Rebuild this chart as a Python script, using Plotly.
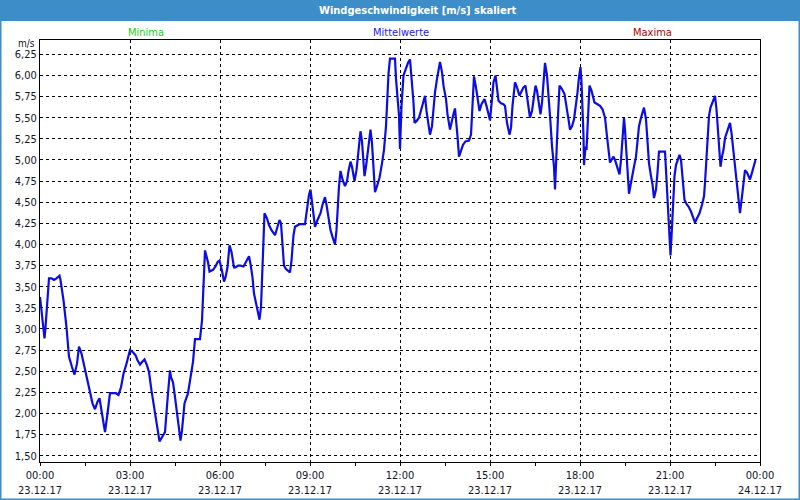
import plotly.graph_objects as go

DAY = "2017-12-23"

times = [
    "00:00","00:03","00:06","00:09","00:11","00:13","00:18","00:23","00:28","00:33","00:39","00:41",
    "00:47","00:53","00:58","01:04","01:09","01:14","01:18","01:23","01:28","01:34","01:40","01:45",
    "01:50","01:55","01:59","02:03","02:10","02:15","02:20","02:32","02:37","02:42","02:47","02:53",
    "03:00","03:05","03:11","03:15","03:20","03:24","03:29","03:34","03:38","03:43","03:49","03:54",
    "03:59","04:04","04:10","04:16","04:20","04:22","04:26","04:29","04:34","04:39","04:41","04:44",
    "04:49","04:56","05:01","05:06","05:10","05:20","05:24","05:27","05:30","05:36","05:39","05:46",
    "05:51","05:55","05:59",
    "06:04","06:08","06:11","06:15","06:19","06:23","06:28","06:31","06:36","06:41","06:47","06:51",
    "06:58","07:01","07:05","07:08","07:12","07:16","07:19","07:22","07:24","07:26","07:29","07:34",
    "07:38","07:43","07:50","07:55","07:59","08:02","08:05","08:08","08:12","08:15","08:20","08:23",
    "08:27","08:30","08:39","08:50","08:54","08:58","09:01","09:04","09:07","09:10","09:15","09:21",
    "09:25","09:30","09:33","09:37","09:41","09:45","09:50","09:53","09:55","09:58","10:01","10:05",
    "10:10","10:14","10:17","10:21","10:24","10:29","10:33","10:37","10:41","10:44","10:49","10:52",
    "10:57","11:01","11:04","11:07","11:10","11:14","11:19","11:24","11:28","11:32","11:37","11:40",
    "11:50","11:52","11:55","11:58","12:00",
    "12:03","12:07","12:11","12:16","12:20","12:23","12:27","12:29","12:33","12:38","12:41","12:46",
    "12:50","12:53","12:57","13:00","13:04","13:07","13:10","13:14","13:16","13:20","13:24","13:27",
    "13:32","13:35","13:40","13:43","13:46","13:50","13:52","13:55","13:58","14:02","14:06","14:11",
    "14:18","14:22","14:25","14:28","14:32","14:35","14:39","14:43","14:49","14:53","14:57","15:00",
    "15:04","15:07","15:11","15:14","15:17","15:22","15:27","15:30","15:34","15:39","15:42","15:45",
    "15:50","15:54","15:59","16:02","16:07","16:11","16:16","16:20","16:24","16:28","16:31","16:34",
    "16:38","16:41","16:44","16:47","16:50","16:54","16:57","17:01","17:04","17:08","17:10","17:13",
    "17:16","17:19","17:24","17:29","17:34","17:37","17:40","17:44","17:48","17:51","17:55","17:58",
    "18:01",
    "18:03","18:05","18:07","18:08","18:11","18:13","18:15","18:17","18:19","18:23","18:26","18:29",
    "18:35","18:40","18:45","18:50","18:54","18:57","19:00","19:03","19:07","19:10","19:14","19:16",
    "19:19","19:22","19:25","19:28","19:30","19:32","19:35","19:38","19:42","19:45","19:48","19:52",
    "19:55","19:58","20:02","20:05","20:08","20:12","20:15","20:18","20:22","20:25","20:28","20:32",
    "20:35","20:38","20:45","20:50","20:52","20:54","20:57","20:59","21:01","21:03","21:06","21:09",
    "21:12","21:15","21:19","21:22","21:25","21:29","21:33","21:37","21:42","21:46","21:50","21:54",
    "21:59","22:04","22:08","22:10","22:13","22:16","22:18","22:21","22:25","22:28","22:30","22:33",
    "22:36","22:38","22:41","22:44","22:47","22:50","22:54","22:58","23:00","23:03","23:06","23:10",
    "23:14","23:17","23:20","23:24","23:27","23:30","23:34","23:37","23:40","23:44","23:47","23:51",
]

mittelwerte = [
    3.38,3.20,3.01,2.89,3.02,3.22,3.60,3.60,3.58,3.60,3.63,3.58,
    3.34,3.02,2.67,2.55,2.46,2.59,2.79,2.71,2.57,2.39,2.24,2.12,
    2.05,2.14,2.18,2.04,1.78,2.00,2.24,2.24,2.22,2.31,2.47,2.59,
    2.75,2.73,2.69,2.63,2.58,2.61,2.64,2.57,2.49,2.27,2.04,1.84,
    1.67,1.72,1.78,2.24,2.51,2.43,2.37,2.24,2.02,1.78,1.68,1.80,
    2.12,2.24,2.41,2.61,2.88,2.88,3.10,3.58,3.93,3.79,3.68,3.70,
    3.74,3.79,3.81,
    3.69,3.56,3.61,3.73,3.99,3.91,3.73,3.73,3.75,3.75,3.74,3.79,
    3.86,3.77,3.61,3.42,3.32,3.20,3.11,3.26,3.61,4.01,4.37,4.31,
    4.23,4.17,4.11,4.21,4.29,4.25,4.01,3.75,3.71,3.69,3.67,3.81,
    4.11,4.21,4.24,4.24,4.44,4.59,4.65,4.51,4.35,4.21,4.29,4.37,
    4.47,4.56,4.47,4.29,4.17,4.09,4.00,4.17,4.43,4.69,4.87,4.77,
    4.69,4.75,4.87,4.98,4.92,4.75,4.88,5.16,5.34,5.22,4.81,4.92,
    5.16,5.36,5.20,4.88,4.62,4.69,4.79,4.96,5.12,5.40,6.02,6.20,
    6.20,5.96,5.77,5.53,5.13,
    5.64,6.00,6.08,6.15,6.19,6.00,5.68,5.44,5.46,5.50,5.56,5.68,
    5.76,5.58,5.40,5.30,5.40,5.66,5.80,5.96,6.04,6.16,6.04,5.88,
    5.72,5.54,5.36,5.46,5.52,5.61,5.50,5.28,5.04,5.10,5.18,5.22,
    5.23,5.30,5.64,5.99,5.86,5.72,5.58,5.66,5.72,5.64,5.54,5.47,
    5.72,5.92,6.00,5.88,5.70,5.67,5.66,5.64,5.44,5.30,5.38,5.64,
    5.92,5.86,5.76,5.80,5.86,5.88,5.68,5.50,5.58,5.74,5.88,5.82,
    5.66,5.54,5.68,5.92,6.15,6.00,5.80,5.44,5.16,4.92,4.65,5.00,
    5.52,5.88,5.84,5.78,5.62,5.48,5.36,5.40,5.48,5.60,5.80,5.98,
    6.10,
    5.92,5.64,5.28,4.94,5.16,5.12,5.44,5.72,5.88,5.82,5.76,5.68,
    5.66,5.64,5.60,5.50,5.28,5.12,4.97,5.00,5.04,5.00,4.92,4.87,
    4.83,5.00,5.24,5.50,5.36,5.16,4.88,4.60,4.73,4.81,4.92,5.04,
    5.26,5.40,5.50,5.58,5.62,5.48,5.24,4.96,4.81,4.71,4.55,4.65,
    4.85,5.10,5.10,5.10,4.88,4.65,4.37,4.09,3.87,4.09,4.45,4.81,
    4.94,5.00,5.06,5.00,4.77,4.53,4.48,4.45,4.39,4.31,4.26,4.31,
    4.37,4.47,4.57,4.73,5.00,5.24,5.52,5.62,5.68,5.74,5.76,5.60,
    5.32,5.12,4.92,5.04,5.12,5.26,5.34,5.40,5.44,5.32,5.16,4.94,
    4.73,4.53,4.37,4.57,4.73,4.88,4.85,4.81,4.77,4.85,4.92,5.00,
]

x_tick_times = ["2017-12-23 00:00", "2017-12-23 03:00", "2017-12-23 06:00", "2017-12-23 09:00",
                "2017-12-23 12:00", "2017-12-23 15:00", "2017-12-23 18:00", "2017-12-23 21:00",
                "2017-12-24 00:00"]
x_tick_labels = ["00:00<br>23.12.17", "03:00<br>23.12.17", "06:00<br>23.12.17", "09:00<br>23.12.17",
                 "12:00<br>23.12.17", "15:00<br>23.12.17", "18:00<br>23.12.17", "21:00<br>23.12.17",
                 "00:00<br>24.12.17"]
y_ticks = [1.50, 1.75, 2.00, 2.25, 2.50, 2.75, 3.00, 3.25, 3.50, 3.75, 4.00, 4.25, 4.50,
           4.75, 5.00, 5.25, 5.50, 5.75, 6.00, 6.25]
y_tick_labels = [f"{v:.2f}".replace(".", ",") for v in y_ticks]

title_text = "Windgeschwindigkeit [m/s] skaliert"
legend_items = [("Minima", "#1fcc1f"), ("Mittelwerte", "#2020e8"), ("Maxima", "#b00000")]

FONT = "Tahoma, 'DejaVu Sans Condensed', 'Liberation Sans', Arial, sans-serif"
TEXT = "#141428"

W, H = 800, 500
L, R, T, B = 40, 40, 40, 38
pw, ph = W - L - R, H - T - B


def px(x):
    return (x - L) / pw


def py(y):
    return (H - B - y) / ph


x_dates = [f"{DAY} {t}" for t in times]

fig = go.Figure()
fig.add_trace(go.Scatter(x=x_dates, y=mittelwerte, mode="lines",
                         line=dict(color="#0c0ce6", width=2.2), hoverinfo="skip"))

fig.update_layout(
    width=W, height=H,
    margin=dict(l=L, r=R, t=T, b=B, pad=0, autoexpand=False),
    paper_bgcolor="white", plot_bgcolor="white",
    showlegend=False,
    separators=",.",
    font=dict(family=FONT, size=11, color=TEXT),
)

fig.update_xaxes(
    type="date", automargin=False,
    range=["2017-12-23 00:00", "2017-12-24 00:00"],
    tickmode="array", tickvals=x_tick_times, ticktext=x_tick_labels,
    ticks="outside", ticklen=3, tickcolor="black", tickwidth=1,
    ticklabelstandoff=0,
    showline=True, linecolor="black", linewidth=1, mirror=True,
    showgrid=True, gridcolor="black", gridwidth=1, griddash="3px,3px",
    zeroline=False,
    tickfont=dict(family=FONT, size=11, color=TEXT),
    minor=dict(dtick=5400000, tick0="2017-12-23 00:00", ticks="outside", ticklen=3,
               tickcolor="black", showgrid=False),
)

fig.update_yaxes(
    automargin=False,
    range=[1.426, 6.42],
    tickmode="array", tickvals=y_ticks, ticktext=y_tick_labels,
    ticks="", showline=True, linecolor="black", linewidth=1, mirror=True,
    showgrid=True, gridcolor="black", gridwidth=1, griddash="3px,3px",
    zeroline=False,
    tickfont=dict(family=FONT, size=11, color=TEXT),
)

shapes = [
    dict(type="rect", xref="paper", yref="paper", x0=px(0), x1=px(W), y0=py(21), y1=py(0),
         fillcolor="#3d8ec8", line=dict(width=0), layer="below"),
    dict(type="rect", xref="paper", yref="paper", x0=px(0.5), x1=px(W - 0.5), y0=py(H - 0.5), y1=py(0),
         fillcolor="rgba(0,0,0,0)", line=dict(color="#3d8ec8", width=2), layer="above"),
]
fig.update_layout(shapes=shapes)

annotations = [
    dict(text=f"<b>{title_text}</b>", x=px(418), y=py(11), xref="paper", yref="paper",
         showarrow=False, xanchor="center", yanchor="middle",
         font=dict(family=FONT, size=11, color="white")),
    dict(text="m/s", x=px(37), y=py(43), xref="paper", yref="paper", showarrow=False,
         xanchor="right", yanchor="middle", font=dict(family=FONT, size=10, color=TEXT)),
]
for (name, col), cx in zip(legend_items, [146, 401, 652]):
    annotations.append(dict(text=name, x=px(cx), y=py(32), xref="paper", yref="paper",
                            showarrow=False, xanchor="center", yanchor="middle",
                            font=dict(family=FONT, size=11, color=col)))
fig.update_layout(annotations=annotations)

fig.write_html("out.html")
